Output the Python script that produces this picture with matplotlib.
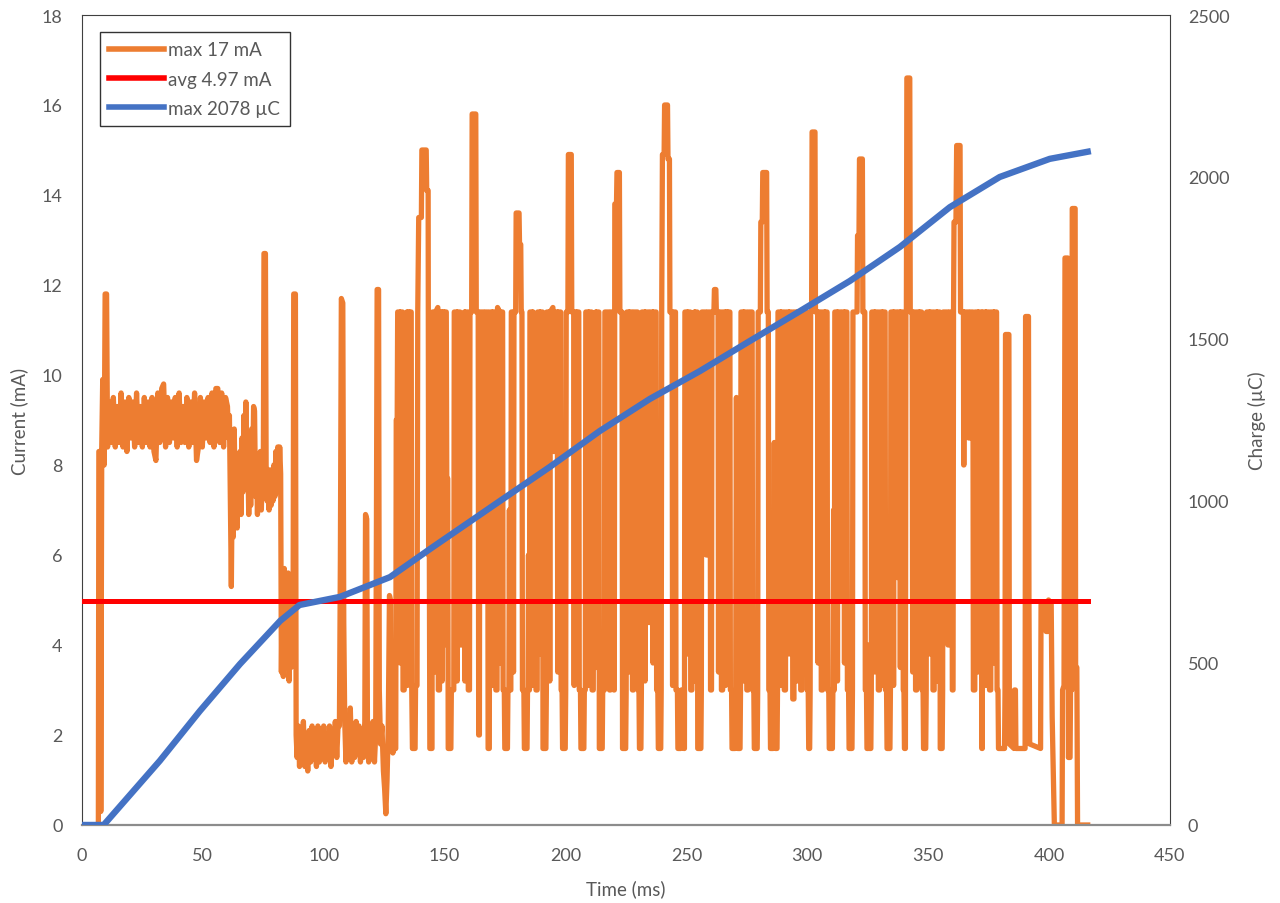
import matplotlib
matplotlib.use("Agg")
import matplotlib.pyplot as plt

plt.rcParams['font.family'] = ['Lato', 'DejaVu Sans']

TEXT = '#595959'
ORANGE = '#ED7D31'
RED = '#FF0000'
BLUE = '#4472C4'

# current trace as (time ms, current mA) points
start_pts = [(0, 0), (6.8, 0), (7.0, 8.3), (7.6, 8.3), (7.8, 0.3), (8.2, 8.4), (8.6, 9.9), (9.2, 8.0), (9.6, 11.8), (10.2, 11.8)]

band_pts = [
    (10.6, 8.4), (11.4, 9.4), (12.2, 8.5), (13.0, 9.5), (13.8, 8.4), (14.6, 9.3), (15.4, 8.5), (16.2, 9.6), (17.0, 8.4), (17.8, 9.4),
    (18.6, 8.3), (19.4, 9.5), (20.2, 8.6), (21.0, 9.4), (21.8, 8.4), (22.6, 9.6), (23.4, 8.5), (24.2, 9.3), (25.0, 8.4), (25.8, 9.5),
    (26.6, 8.5), (27.4, 9.4), (28.2, 8.4), (29.0, 9.5), (29.8, 8.3), (30.6, 8.1), (31.4, 9.6), (32.2, 8.5), (33.0, 9.7), (33.8, 9.8),
    (34.6, 8.4), (35.4, 9.5), (36.2, 8.5), (37.0, 9.4), (37.8, 8.6), (38.6, 9.5), (39.4, 8.4), (40.2, 9.6), (41.0, 8.5), (41.8, 9.3),
    (42.6, 8.5), (43.4, 9.5), (44.2, 8.4), (45.0, 9.4), (45.8, 8.5), (46.6, 9.6), (47.4, 8.1), (48.2, 8.4), (49.0, 9.5), (49.8, 8.4),
    (50.6, 9.4), (51.4, 8.6), (52.2, 9.5), (53.0, 8.5), (53.8, 9.6), (54.6, 8.4), (55.4, 9.7), (56.2, 9.7), (57.0, 8.5), (57.8, 9.6),
    (58.6, 8.4), (59.4, 9.5), (60.2, 9.3),
]

mid_pts = [
    (60.6, 8.6), (61.0, 9.1), (61.4, 7.3), (61.8, 5.3), (62.2, 7.9), (62.6, 6.4), (63.0, 8.8), (63.4, 7.0), (63.8, 7.8), (64.2, 6.6),
    (64.6, 8.0), (65.0, 7.2), (65.4, 8.3), (65.8, 6.9), (66.2, 8.6), (66.6, 7.4), (67.0, 9.1), (67.4, 7.7), (67.8, 9.4), (68.2, 7.8),
    (68.6, 8.2), (69.0, 6.9), (69.4, 8.4), (69.8, 7.1), (70.2, 8.8), (70.6, 7.5), (71.0, 9.3), (71.4, 9.2), (71.8, 7.3), (72.2, 8.2),
    (72.6, 6.9), (73.0, 7.9), (73.4, 7.1), (73.8, 8.3), (74.2, 7.0), (74.6, 7.9), (75.0, 7.4), (75.3, 12.7), (75.9, 12.7), (76.2, 7.8),
    (76.6, 7.2), (77.0, 7.9), (77.4, 7.0), (77.8, 7.6), (78.2, 7.1), (78.6, 7.9), (79.0, 7.2), (79.4, 8.0), (79.8, 7.3), (80.2, 8.3),
    (80.6, 7.4), (81.0, 8.4), (81.4, 7.5), (81.8, 8.4), (82.2, 7.8), (82.5, 3.4), (82.9, 5.6), (83.3, 3.3), (83.7, 5.7), (84.1, 4.0),
    (84.5, 5.5), (84.9, 3.5), (85.3, 5.6), (85.7, 3.2), (86.1, 4.6), (86.5, 3.5), (86.9, 5.0), (87.3, 3.6), (87.6, 11.8), (88.3, 11.8),
    (88.6, 2.0),
]

low_pts = [
    (89.0, 1.5), (89.5, 2.2), (90.0, 1.3), (90.5, 2.1), (91.0, 1.4), (91.6, 2.3), (92.2, 1.3), (92.8, 1.9), (93.4, 1.2), (94.0, 2.1),
    (94.6, 1.4), (95.2, 2.2), (95.8, 1.5), (96.4, 1.9), (97.0, 1.3), (97.6, 2.2), (98.2, 1.4), (98.8, 2.1), (99.4, 1.6), (100.0, 2.2),
    (100.6, 1.4), (101.2, 2.0), (101.8, 1.5), (102.4, 2.2), (103.0, 1.3), (103.6, 2.1), (104.2, 1.6), (104.8, 2.3), (105.4, 1.5), (106.0, 2.3),
    (106.5, 2.2), (106.9, 5.9), (107.3, 11.7), (107.9, 11.6), (108.3, 4.5), (108.7, 2.3), (109.2, 1.4), (109.8, 2.2), (110.4, 1.5), (111.0, 2.6),
    (111.6, 1.4), (112.2, 2.1), (112.8, 1.5), (113.4, 2.3), (114.0, 1.6), (114.6, 2.2), (115.2, 1.4), (115.8, 2.0), (116.4, 1.5), (117.0, 2.3),
    (117.3, 6.9), (117.8, 6.8), (118.1, 2.0), (118.6, 1.4), (119.2, 2.2), (119.8, 1.5), (120.4, 2.3), (121.0, 1.4), (121.5, 2.0), (121.8, 6.5),
    (122.1, 11.9), (122.7, 11.9), (123.0, 3.0), (123.5, 1.8), (124.1, 2.2), (124.7, 1.2), (125.2, 0.8), (125.7, 0.25), (126.2, 1.0), (126.7, 2.2),
    (127.2, 5.1), (127.6, 5.0), (127.9, 1.8), (128.6, 1.6), (129.2, 1.7),
]

dense_pts = [
    (129.8, 1.7), (130.0, 9.0), (130.4, 9.0), (130.6, 11.4), (131.4, 11.4), (131.6, 3.6), (131.8, 11.4), (132.6, 11.4), (132.8, 3.0), (133.3, 3.0),
    (133.5, 11.3), (134.4, 11.4), (134.6, 3.1), (134.8, 11.4), (135.3, 11.4), (135.5, 4.2), (135.7, 11.4), (136.2, 11.4),
    (136.4, 3.1), (136.7, 1.7), (137.8, 1.7), (138.0, 3.1), (138.6, 3.1),
    (138.9, 11.4), (139.3, 13.5), (140.4, 13.5), (140.6, 15.0), (142.4, 15.0), (142.6, 14.1), (143.2, 14.1), (143.4, 6.0), (143.7, 6.0),
    (143.9, 1.7), (144.8, 1.7),
    (145.0, 11.4), (145.9, 11.4), (146.1, 3.4), (146.3, 11.4), (147.2, 11.5), (147.4, 3.0), (147.9, 3.0), (148.1, 11.4), (148.8, 11.4), (149.0, 3.2),
    (149.2, 11.4), (149.7, 11.4), (149.9, 4.0), (150.1, 11.4), (150.7, 11.4), (150.9, 7.7), (151.3, 7.7),
    (151.5, 1.7), (152.6, 1.7), (152.8, 3.0), (153.8, 3.0),
    (154.0, 11.4), (155.0, 11.4), (155.2, 3.2), (155.4, 11.4), (156.4, 11.4), (156.6, 4.0), (157.0, 4.0), (157.2, 11.3), (158.2, 11.4), (158.4, 3.2),
    (158.6, 11.4), (159.6, 11.4),
    (159.8, 3.0), (160.3, 3.0),
    (160.5, 11.4), (161.2, 11.4), (161.4, 15.8), (162.9, 15.8), (163.1, 11.4), (163.9, 11.4),
    (164.1, 2.0), (164.4, 2.0),
    (164.6, 11.4), (166.0, 11.4), (166.2, 5.0), (166.6, 5.0), (166.8, 11.4), (167.8, 11.4),
    (168.0, 1.7), (168.5, 1.7),
    (168.7, 11.4), (169.6, 11.4), (169.8, 3.1), (170.0, 11.4), (171.0, 11.4), (171.2, 3.0), (171.7, 3.0), (171.9, 11.5), (172.7, 11.4), (172.9, 3.6),
    (173.1, 11.4), (174.0, 11.4),
    (174.2, 3.0), (174.7, 3.0), (174.9, 1.7), (176.0, 1.7), (176.2, 3.0), (176.6, 3.0), (176.8, 7.0), (177.0, 3.0), (177.4, 3.0),
    (177.6, 11.4), (178.3, 11.4), (178.5, 3.4), (178.7, 11.4), (179.4, 11.4), (179.6, 13.6), (180.8, 13.6), (181.0, 12.9), (181.5, 12.9), (181.7, 11.4),
    (182.0, 11.4),
    (182.2, 3.0), (182.8, 3.0), (183.0, 1.7), (184.1, 1.7), (184.3, 3.0), (184.5, 3.0), (184.7, 6.0), (184.9, 3.0), (185.1, 3.0),
    (185.3, 11.4), (186.2, 11.4), (186.4, 3.1), (186.6, 11.4), (187.6, 11.3), (187.8, 3.0), (188.3, 3.0), (188.5, 11.4), (189.3, 11.4), (189.5, 3.8),
    (189.7, 11.4), (190.5, 11.4),
    (190.7, 1.7), (191.9, 1.7), (192.1, 3.0),
    (192.3, 11.4), (193.3, 11.4), (193.5, 3.2), (193.7, 11.4), (194.8, 11.5), (195.0, 8.3), (195.4, 8.3), (195.6, 11.4), (196.6, 11.4), (196.8, 3.4),
    (197.0, 11.4), (198.0, 11.4),
    (198.2, 3.0), (198.6, 3.0), (198.8, 1.7), (199.9, 1.7), (200.1, 3.0),
    (200.3, 11.4), (201.0, 11.4), (201.2, 14.9), (202.4, 14.9), (202.6, 11.4), (203.4, 11.4), (203.6, 3.1), (203.8, 11.4), (204.4, 11.4), (204.6, 4.4),
    (204.8, 11.4), (205.5, 11.4),
    (205.7, 3.0), (206.2, 3.0), (206.4, 1.7), (207.6, 1.7), (207.8, 3.0), (208.2, 3.0),
    (208.4, 11.4), (209.4, 11.4), (209.6, 3.1), (209.8, 11.4), (210.8, 11.4), (211.0, 3.0), (211.5, 3.0), (211.7, 11.3), (212.5, 11.4), (212.7, 3.5),
    (212.9, 11.4), (213.8, 11.4),
    (214.0, 1.7), (215.2, 1.7), (215.4, 3.0), (216.1, 3.0),
    (216.3, 11.4), (218.0, 11.4), (218.2, 3.0), (218.6, 3.0), (218.8, 11.4), (219.8, 11.4),
    (220.0, 3.0), (220.2, 3.0),
    (220.4, 13.8), (221.1, 13.8), (221.3, 14.5), (222.3, 14.5), (222.5, 11.4), (223.4, 11.4),
    (223.6, 1.7), (224.9, 1.7), (225.1, 3.0),
    (225.4, 11.4), (226.2, 11.4), (226.4, 3.4), (226.6, 11.4), (227.5, 11.4), (227.7, 3.0), (228.1, 3.0), (228.3, 11.4), (229.8, 11.4),
    (230.0, 3.0), (230.4, 3.0), (230.6, 1.7), (231.2, 1.7), (231.4, 3.0),
    (231.6, 11.4), (232.7, 11.4), (232.9, 3.2), (233.1, 11.4), (234.2, 11.4), (234.4, 4.5), (234.8, 4.5), (235.0, 11.4), (236.0, 11.4), (236.2, 3.6),
    (236.4, 11.4), (237.5, 11.4),
    (237.7, 3.0), (238.2, 3.0), (238.4, 1.7), (239.4, 1.7), (239.6, 3.0),
    (239.8, 11.4), (240.1, 14.9), (240.8, 14.9), (241.0, 16.0), (242.2, 16.0), (242.4, 14.8), (243.0, 14.8), (243.2, 11.4), (244.1, 11.4), (244.3, 3.1),
    (244.5, 11.4), (245.5, 11.4),
    (245.7, 3.0), (246.3, 3.0), (246.5, 1.7), (247.7, 1.7), (247.9, 3.0), (248.8, 3.0), (249.0, 1.7), (249.2, 1.7),
    (249.4, 11.4), (250.3, 11.4), (250.5, 3.8), (250.7, 11.4), (251.6, 11.4), (251.8, 3.0), (252.3, 3.0), (252.5, 11.3), (253.3, 11.4), (253.5, 3.2),
    (253.7, 11.4), (254.5, 11.4),
    (254.7, 1.7), (256.0, 1.7), (256.2, 3.0),
    (256.4, 11.4), (258.0, 11.4), (258.2, 6.0), (258.6, 6.0), (258.8, 11.4), (259.8, 11.4),
    (260.0, 3.0), (260.4, 3.0),
    (260.6, 11.4), (261.4, 11.4), (261.6, 11.9), (262.2, 11.9), (262.4, 11.4), (263.1, 11.4), (263.3, 3.4), (263.5, 11.4), (264.3, 11.4), (264.5, 3.0),
    (265.0, 3.0), (265.2, 11.4), (266.0, 11.4), (266.2, 3.1), (266.4, 11.4), (266.9, 11.4), (267.1, 4.0), (267.3, 11.4), (268.0, 11.4),
    (268.2, 3.0), (268.7, 3.0), (268.9, 1.7), (270.2, 1.7), (270.4, 3.0), (270.7, 9.5), (271.0, 3.0), (271.2, 1.7), (272.2, 1.7), (272.4, 3.0),
    (272.6, 11.4), (273.5, 11.4), (273.7, 3.2), (273.9, 11.4), (274.8, 11.4), (275.0, 3.0), (275.5, 3.0), (275.7, 11.4), (277.2, 11.4),
    (277.4, 3.0), (277.9, 3.0), (278.1, 1.7), (279.3, 1.7), (279.5, 3.0),
    (279.7, 11.4), (280.6, 11.4), (280.8, 13.4), (281.4, 13.4), (281.6, 14.5), (283.2, 14.5), (283.4, 11.4), (283.9, 11.4),
    (284.1, 3.0), (284.6, 3.0), (284.8, 1.7), (285.9, 1.7), (286.1, 3.0), (286.35, 8.5), (286.6, 3.0), (286.8, 1.7), (287.5, 1.7), (287.7, 3.0),
    (287.9, 11.4), (288.9, 11.4), (289.1, 3.1), (289.3, 11.4), (290.3, 11.4), (290.5, 3.0), (291.0, 3.0), (291.2, 11.4), (292.3, 11.4), (292.5, 3.8),
    (292.7, 11.4), (293.8, 11.4),
    (294.0, 2.8), (294.5, 2.8),
    (294.7, 11.4), (295.7, 11.4), (295.9, 3.2), (296.1, 11.4), (297.1, 11.4), (297.3, 3.0), (297.8, 3.0), (298.0, 11.4), (299.8, 11.4),
    (300.0, 3.0), (300.4, 3.0), (300.6, 1.7), (301.0, 1.7), (301.2, 3.0),
    (301.4, 11.4), (301.8, 11.4), (302.0, 15.4), (303.2, 15.4), (303.4, 11.4), (304.3, 11.4), (304.5, 3.6), (304.7, 11.4), (305.6, 11.4), (305.8, 3.0),
    (306.3, 3.0), (306.5, 11.4), (307.1, 11.4), (307.3, 3.1), (307.5, 11.4), (308.2, 11.4),
    (308.4, 3.0), (308.9, 3.0), (309.1, 1.7), (310.4, 1.7), (310.6, 3.0), (310.9, 7.0), (311.2, 3.0),
    (311.4, 11.4), (312.3, 11.4), (312.5, 3.2), (312.7, 11.4), (313.6, 11.4), (313.8, 5.0), (314.2, 5.0), (314.4, 11.4), (315.2, 11.4), (315.4, 3.6),
    (315.6, 11.4), (316.4, 11.4),
    (316.6, 3.0), (317.1, 3.0), (317.3, 1.7), (318.5, 1.7), (318.7, 3.0),
    (318.9, 11.4), (320.6, 11.4), (320.8, 13.1), (321.4, 13.1), (321.6, 14.8), (322.8, 14.8), (323.0, 11.4), (323.8, 11.4),
    (324.0, 3.0), (324.5, 3.0), (324.7, 1.7), (325.3, 1.7), (325.5, 4.0), (325.7, 1.7), (326.3, 1.7), (326.5, 3.0),
    (326.7, 11.4), (327.7, 11.4), (327.9, 3.4), (328.1, 11.4), (329.2, 11.4), (329.4, 3.0), (329.9, 3.0), (330.1, 11.4), (330.9, 11.4), (331.1, 3.1),
    (331.3, 11.4), (332.2, 11.4),
    (332.4, 3.0), (332.8, 3.0), (333.0, 1.7), (334.2, 1.7), (334.4, 3.0),
    (334.6, 11.4), (335.5, 11.4), (335.7, 3.1), (335.9, 11.4), (336.8, 11.4), (337.0, 5.5), (337.4, 5.5), (337.6, 11.4), (338.3, 11.4), (338.5, 3.5),
    (338.7, 11.4), (339.5, 11.4),
    (339.7, 3.0), (340.0, 3.0), (340.2, 1.7), (340.6, 1.7),
    (340.8, 11.4), (341.0, 11.4), (341.2, 16.6), (342.4, 16.6), (342.6, 11.4), (343.4, 11.4), (343.6, 3.4), (343.8, 11.4), (344.6, 11.4), (344.8, 3.0),
    (345.3, 3.0), (345.5, 11.4), (346.2, 11.4), (346.4, 3.1), (346.6, 11.4), (347.3, 11.4),
    (347.5, 3.0), (347.9, 3.0), (348.1, 1.7), (349.0, 1.7), (349.2, 3.0),
    (349.4, 11.4), (350.4, 11.4), (350.6, 3.8), (350.8, 11.4), (351.8, 11.4), (352.0, 3.0), (352.5, 3.0), (352.7, 11.4), (353.5, 11.4), (353.7, 3.2),
    (353.9, 11.4), (354.8, 11.4),
    (355.0, 1.7), (355.8, 1.7), (356.0, 3.0),
    (356.2, 11.4), (358.0, 11.4), (358.2, 4.0), (358.6, 4.0), (358.8, 11.4), (359.8, 11.4),
    (360.0, 3.0), (360.3, 3.0),
    (360.5, 11.4), (360.7, 13.4), (361.5, 13.4), (361.8, 15.1), (363.2, 15.1), (363.4, 11.4), (364.6, 11.4),
    (364.7, 8.0), (364.8, 8.0),
    (364.9, 11.4), (366.6, 11.4), (366.8, 8.6), (367.2, 8.6), (367.4, 11.4), (368.5, 11.4),
    (368.7, 3.0), (369.3, 3.0),
    (369.5, 11.4), (370.5, 11.4), (370.7, 3.4), (370.9, 11.4), (372.0, 11.4),
    (372.2, 1.7), (372.4, 1.7),
    (372.6, 11.4), (373.7, 11.4), (373.9, 3.1), (374.1, 11.4), (375.2, 11.4), (375.4, 3.0), (375.9, 3.0), (376.1, 11.4), (377.0, 11.4), (377.2, 3.6),
    (377.4, 11.4), (378.3, 11.4),
]

tail_pts = [
    (378.5, 3.0), (378.9, 3.0), (379.1, 1.7), (381.6, 1.7), (381.8, 3.0), (382.0, 10.9), (383.4, 10.9), (383.6, 1.8),
    (385.5, 1.7), (385.7, 3.0), (386.1, 3.0), (386.3, 1.7), (390.1, 1.7), (390.3, 11.3), (391.5, 11.3), (391.7, 5.0),
    (392.0, 1.8), (396.5, 1.7), (396.7, 4.9), (398.6, 4.9), (398.8, 4.3), (399.6, 4.3), (399.8, 5.0), (400.9, 4.9),
    (401.3, 2.4), (402.2, 0.0), (405.4, 0.0), (405.6, 3.0), (406.2, 3.1), (406.6, 12.6), (407.8, 12.6), (408.0, 1.5),
    (408.7, 1.5), (408.9, 3.0), (409.4, 3.0), (409.6, 13.7), (410.8, 13.7), (411.0, 3.5), (411.5, 3.5), (411.8, 0.0),
    (416.0, 0.0),
]

# average current line
avg_t = [0, 416]
avg_ma = [4.97, 4.97]

# accumulated charge (time ms, charge uC)
charge_pts = [
    (0, 0), (9.0, 0), (32.2, 198), (48.8, 352), (65.4, 497), (82.0, 630), (90.0, 679), (106.7, 704),
    (127.4, 765), (144.0, 852), (172.9, 1000), (193.5, 1105), (214.2, 1216), (234.9, 1315), (255.6, 1401),
    (276.3, 1494), (297.0, 1586), (317.6, 1679), (338.3, 1784), (359.0, 1907), (379.6, 2000), (400.3, 2056),
    (416.0, 2078),
]

labels = ['max 17 mA', 'avg 4.97 mA', 'max 2078 µC']

current_pts = start_pts + band_pts + mid_pts + low_pts + dense_pts + tail_pts
cur_t, cur_ma = zip(*current_pts)
chg_t, chg_uc = zip(*charge_pts)

fig = plt.figure(figsize=(12.8, 9.04), dpi=100)
ax = fig.add_axes([0.064, 0.0863, 0.850, 0.896])
ax2 = ax.twinx()

l1, = ax.plot(cur_t, cur_ma, color=ORANGE, lw=3.8, zorder=2)
l2, = ax.plot(avg_t, avg_ma, color=RED, lw=3.6, zorder=3)
l3, = ax2.plot(chg_t, chg_uc, color=BLUE, lw=4.6, zorder=4)

ax.set_xlim(0, 450)
ax.set_ylim(0, 18)
ax2.set_ylim(0, 2500)
ax.set_xticks(range(0, 451, 50))
ax.set_yticks(range(0, 19, 2))
ax2.set_yticks(range(0, 2501, 500))

ax.tick_params(axis='both', length=0, labelsize=13, labelcolor=TEXT)
ax.tick_params(axis='y', pad=14)
ax.tick_params(axis='x', pad=16)
ax2.tick_params(axis='y', length=0, labelsize=13, labelcolor=TEXT, pad=13)

for name, sp in ax.spines.items():
    sp.set_color('#404040')
    sp.set_linewidth(0.8)
ax.spines['bottom'].set_color('#8c8c8c')
ax.spines['bottom'].set_linewidth(1.6)
for sp in ax2.spines.values():
    sp.set_visible(False)

ax.set_xlabel('Time (ms)', fontsize=13.5, color=TEXT)
ax.set_ylabel('Current (mA)', fontsize=13.5, color=TEXT)
ax2.set_ylabel('Charge (µC)', fontsize=13.5, color=TEXT, rotation=90)
ax.xaxis.set_label_coords(0.5, -0.067)
ax.yaxis.set_label_coords(-0.049, 0.5)
ax2.yaxis.set_label_coords(1.072, 0.5)

leg = ax2.legend([l1, l2, l3], labels, loc='upper left', bbox_to_anchor=(0.0165, 0.979),
                 fontsize=13.5, frameon=True, fancybox=False, edgecolor='black',
                 handlelength=2.9, handletextpad=0.25, borderpad=0.5, labelspacing=0.65,
                 borderaxespad=0)
leg.get_frame().set_linewidth(1.0)
for txt in leg.get_texts():
    txt.set_color(TEXT)
for h in leg.legend_handles:
    h.set_linewidth(4.0)

fig.savefig('out.png', dpi=100)
